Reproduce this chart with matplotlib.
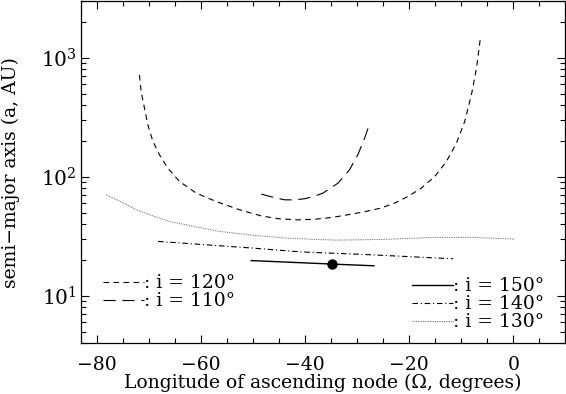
import math
import matplotlib
matplotlib.use("Agg")
import matplotlib.pyplot as plt
from matplotlib.ticker import MultipleLocator, LogLocator, NullFormatter, FuncFormatter

plt.rcParams['font.family'] = ['DejaVu Serif']
plt.rcParams['mathtext.fontset'] = 'dejavuserif'

# i = 120 deg (short dashes)
x120 = [-71.87, -71.54, -70.9, -70.25, -69.29, -68.02, -66.4, -64.17, -60.96, -57.12,
        -52.63, -48.5, -45.25, -41.5, -38.2, -35.0, -32.4, -28.5, -25.4, -22.8,
        -20.25, -17.7, -15.1, -12.9, -10.96, -9.37, -8.08, -7.1, -6.35]
a120 = [716, 519, 377, 273, 199, 153, 118, 91.4, 73, 62,
        52.9, 47, 44.5, 43.5, 44, 45.5, 47.5, 51, 54.7, 60.3,
        68.4, 80.4, 100.7, 134, 191, 291, 486, 815, 1455]
# i = 110 deg (long dashes)
x110 = [-48.46, -46.0, -43.98, -42.0, -40.1, -38.3, -36.6, -33.7, -31.5, -29.9, -28.6, -27.6]
a110 = [71.6, 67.0, 64.1, 64.0, 65.5, 68.5, 73, 88.5, 114.5, 153, 211, 282]
# i = 130 deg (dotted)
x130 = [-78.3, -75.0, -72.5, -69.0, -66.1, -61.0, -56.5, -50.0, -43.7, -38.0, -34.0, -25.0, -15.1, -8.0, 0.2]
a130 = [70.6, 60.5, 52.9, 46.5, 42.2, 38.0, 34.8, 32.3, 30.6, 29.8, 29.4, 29.8, 31.0, 31.0, 30.0]
# i = 140 deg (dash-dot)
x140 = [-68.3, -50.1, -40.8, -27.9, -11.6]
a140 = [28.7, 25.2, 23.4, 22.2, 20.5]
# i = 150 deg (solid)
x150 = [-50.4, -34.8, -26.8]
a150 = [19.8, 18.5, 17.9]
# marked object
x_obj = [-34.8]
a_obj = [18.5]

labels_left = [": i = 120°", ": i = 110°"]
labels_right = [": i = 150°", ": i = 140°", ": i = 130°"]

xticks = [-80, -60, -40, -20, 0]

fig = plt.figure(figsize=(5.66, 3.94), dpi=100)
ax = fig.add_axes([0.1431, 0.1287, 0.855, 0.869])

lw = 0.8
l120, = ax.plot(x120, a120, color='black', lw=lw, dashes=(5, 4))
l110, = ax.plot(x110, a110, color='black', lw=lw, dashes=(11, 6))
l130, = ax.plot(x130, a130, color='#555555', lw=0.7, dashes=(0.8, 1.0))
l140, = ax.plot(x140, a140, color='black', lw=lw, dashes=(5, 2.5, 1, 2.5))
l150, = ax.plot(x150, a150, color='black', lw=1.0)
ax.plot(x_obj, a_obj, 'o', color='black', markersize=6.5)

ax.set_yscale('log')
ax.set_xlim(-83.1, 9.9)
ax.set_ylim(4, 3000)
ax.set_xticks(xticks)
ax.xaxis.set_minor_locator(MultipleLocator(5))
ax.xaxis.set_major_formatter(FuncFormatter(lambda v, p: f"{int(v)}".replace('-', '\u2212')))
ax.yaxis.set_major_locator(LogLocator(base=10, numticks=10))
ax.yaxis.set_minor_locator(LogLocator(base=10, subs=range(2, 10), numticks=10))
ax.yaxis.set_minor_formatter(NullFormatter())
ax.yaxis.set_major_formatter(FuncFormatter(lambda v, p: r"$10^{%d}$" % round(math.log10(v))))

ax.tick_params(which='both', direction='in', top=True, right=True, width=0.8)
ax.tick_params(which='major', length=6)
ax.tick_params(which='minor', length=3.5)
ax.tick_params(axis='x', labelsize=13.5, pad=9)
ax.tick_params(axis='y', labelsize=14.5, pad=3)
for s in ax.spines.values():
    s.set_linewidth(0.9)

ax.set_xlabel("Longitude of ascending node (\u03a9, degrees)", fontsize=13.5, labelpad=0)
ax.set_ylabel("semi\u2212major axis (a, AU)", fontsize=13.5, labelpad=15)

leg1 = ax.legend([l120, l110], labels_left, loc='lower left', frameon=False,
                 fontsize=13.5, handlelength=2.2, handletextpad=0.0, labelspacing=0.0,
                 borderaxespad=0, bbox_to_anchor=(0.03, 0.074))
ax.add_artist(leg1)
ax.legend([l150, l140, l130], labels_right, loc='lower right', frameon=False,
          fontsize=13.5, handlelength=2.2, handletextpad=0.0, labelspacing=0.0,
          borderaxespad=0, bbox_to_anchor=(0.973, 0.013))

fig.savefig("out.png", dpi=100)
